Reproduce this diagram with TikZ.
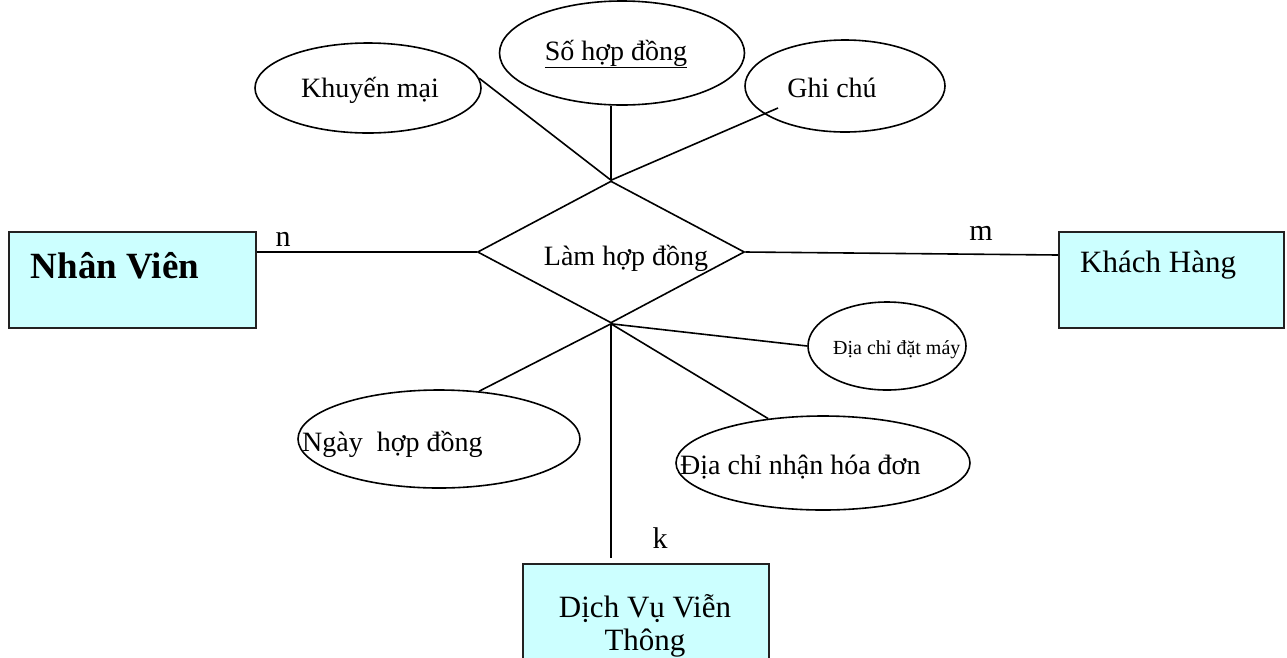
\documentclass[tikz,border=0pt]{standalone}
\usepackage{fontspec}
\setmainfont{Liberation Serif}
\usetikzlibrary{shapes.geometric,calc}
\definecolor{entityfill}{HTML}{CCFFFF}
\definecolor{edgegray}{HTML}{222222}

\begin{document}
\begin{tikzpicture}[x=1pt,y=-1pt,
  entity/.style={draw=edgegray,line width=2pt,fill=entityfill,rectangle,inner sep=0pt,anchor=north west},
  attr/.style={draw,line width=1.6pt,ellipse,inner sep=0pt},
  rel/.style={draw,line width=1.6pt,diamond,inner sep=0pt},
  link/.style={line width=1.6pt},
  txt/.style={inner sep=0pt,font=\fontsize{28}{32}\selectfont},
  card/.style={inner sep=0pt,anchor=base,font=\fontsize{30}{34}\selectfont},
]
\path[use as bounding box] (0,0) rectangle (1287,657);
\clip (0,0) rectangle (1287,657);

% entities
\node[entity,minimum width=247pt,minimum height=96pt] (nv) at (8,231) {};
\node[entity,minimum width=225pt,minimum height=96pt] (kh) at (1058,231) {};
\node[entity,minimum width=246pt,minimum height=110pt] (dv) at (522,563) {};

% relationship
\node[rel,minimum width=267pt,minimum height=142pt] (d) at (611,252) {};

% attributes
\node[attr,minimum width=226pt,minimum height=90pt] (km) at (368,88) {};
\node[attr,minimum width=245pt,minimum height=104pt] (so) at (622,53) {};
\node[attr,minimum width=200pt,minimum height=92pt] (gc) at (845,86) {};
\node[attr,minimum width=158pt,minimum height=88pt] (dd) at (887,346) {};
\node[attr,minimum width=282pt,minimum height=98pt] (ng) at (439,439) {};
\node[attr,minimum width=294pt,minimum height=94pt] (dn) at (823,463) {};

% texts
\node[txt,anchor=base,font=\fontsize{37}{40}\bfseries] (nv-t) at (115,278) {Nhân Viên};
\node[txt,anchor=base west,font=\fontsize{31}{34}\selectfont] (kh-t) at (1080,272) {Khách Hàng};
\node[txt,anchor=base,font=\fontsize{31}{34}\selectfont] (dv-t1) at (645,617) {Dịch Vụ Viễn};
\node[txt,anchor=base,font=\fontsize{31}{34}\selectfont] (dv-t2) at (645,650) {Thông};
\node[txt,anchor=base] (d-t) at (626,265) {Làm hợp đồng};
\node[txt,anchor=base] (km-t) at (370,97) {Khuyến mại};
\node[txt,anchor=base] (so-t) at (616,60) {\underline{Số hợp đồng}};
\node[txt,anchor=base] (gc-t) at (832,97) {Ghi chú};
\node[txt,anchor=base west,font=\fontsize{20}{24}\selectfont] (dd-t) at (833,354) {Địa chỉ đặt máy};
\node[txt,anchor=base west] (ng-t) at (302,451) {Ngày\ \ hợp đồng};
\node[txt,anchor=base west] (dn-t) at (680,474) {Địa chỉ nhận hóa đơn};

% cardinalities
\node[card] (n-lbl) at (283,246) {n};
\node[card] (m-lbl) at (981,240) {m};
\node[card] (k-lbl) at (660,548) {k};

% connectors
\draw[link] (d.west) -- (d.west -| nv.east);
\draw[link] (d.east) -- ($(kh.north west)+(0,24)$);
\draw[link] (d.north) -- (km.5);
\draw[link] (d.north) -- (d.north |- so.south);
\draw[link] (d.north) -- ($(gc.center)+(-67,22)$);
\draw[link] (d.south) -- (ng.50);
\draw[link] (d.south) -- ($(dv.north west)+(89,-5)$);
\draw[link] (d.south) -- (dn.141);
\draw[link] (d.south) -- (dd.west);
\end{tikzpicture}
\end{document}
